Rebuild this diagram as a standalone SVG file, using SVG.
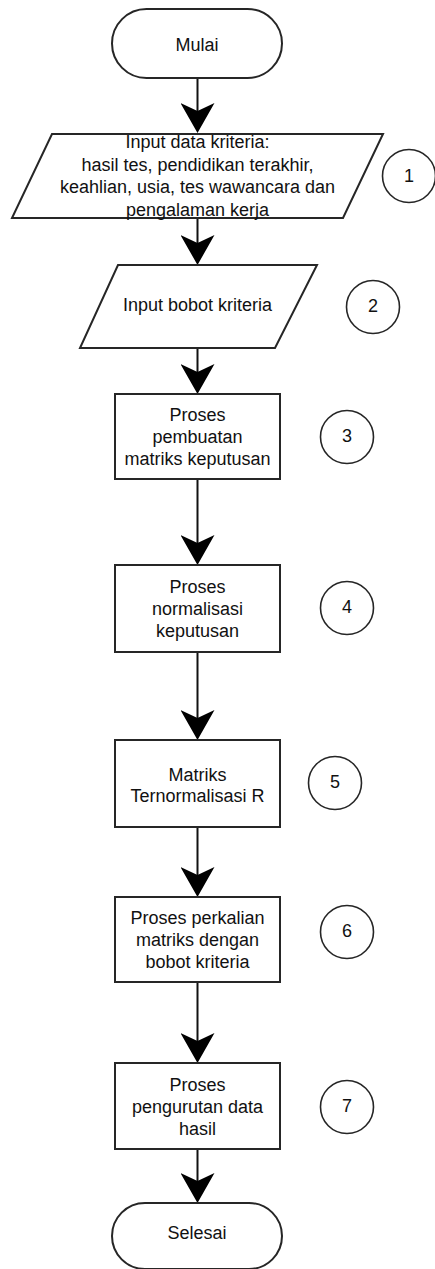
<svg xmlns="http://www.w3.org/2000/svg" width="435" height="1269" viewBox="0 0 435 1269">
  <defs>
    <marker id="arrow" markerUnits="userSpaceOnUse" markerWidth="30" markerHeight="34" viewBox="0 0 30 34" refX="20" refY="17" orient="auto">
      <path d="M0,0 L30,17 L0,34 L8,17 Z" fill="#000"/>
    </marker>
    <style>
      .shape { fill: #fff; stroke: #262626; stroke-width: 2; }
      .num { fill: #fff; stroke: #262626; stroke-width: 1.6; }
      .edge { fill: none; stroke: #111; stroke-width: 2; marker-end: url(#arrow); }
      text { font-family: "Liberation Sans", Arial, sans-serif; font-size: 18px; fill: #111; text-anchor: middle; dominant-baseline: central; }
    </style>
  </defs>
  <rect width="435" height="1269" fill="#fff"/>

  <!-- connectors -->
  <g id="connectors">
    <line class="edge" x1="197.5" y1="78" x2="197.5" y2="123"/>
    <line class="edge" x1="197.5" y1="218" x2="197.5" y2="255"/>
    <line class="edge" x1="197.5" y1="348" x2="197.5" y2="384"/>
    <line class="edge" x1="197.5" y1="479" x2="197.5" y2="555"/>
    <line class="edge" x1="197.5" y1="652" x2="197.5" y2="730"/>
    <line class="edge" x1="197.5" y1="827" x2="197.5" y2="887"/>
    <line class="edge" x1="197.5" y1="982" x2="197.5" y2="1053"/>
    <line class="edge" x1="197.5" y1="1149" x2="197.5" y2="1193"/>
  </g>

  <!-- start -->
  <g id="start">
    <rect class="shape" x="112" y="9" width="170" height="69" rx="34.5"/>
    <text x="197" y="45">Mulai</text>
  </g>

  <!-- input criteria data -->
  <g id="input-data">
    <polygon class="shape" points="52,134 383,134 343,218 12,218"/>
    <text x="197.5" y="142">Input data kriteria:</text>
    <text x="197.5" y="164.5">hasil tes, pendidikan terakhir,</text>
    <text x="197.5" y="187">keahlian, usia, tes wawancara dan</text>
    <text x="197.5" y="209.5">pengalaman kerja</text>
  </g>
  <g id="step-1">
    <circle class="num" cx="409" cy="176" r="26.5"/>
    <text x="409" y="176">1</text>
  </g>

  <!-- input weights -->
  <g id="input-bobot">
    <polygon class="shape" points="118,265 317,265 275,348 80,348"/>
    <text x="197.5" y="305">Input bobot kriteria</text>
  </g>
  <g id="step-2">
    <circle class="num" cx="373" cy="307" r="26.5"/>
    <text x="373" y="306">2</text>
  </g>

  <!-- decision matrix -->
  <g id="proses-matriks">
    <rect class="shape" x="115" y="394" width="165" height="85"/>
    <text x="197.5" y="415">Proses</text>
    <text x="197.5" y="437">pembuatan</text>
    <text x="197.5" y="458.5">matriks keputusan</text>
  </g>
  <g id="step-3">
    <circle class="num" cx="347" cy="437" r="26.5"/>
    <text x="347" y="436">3</text>
  </g>

  <!-- normalisation -->
  <g id="proses-normalisasi">
    <rect class="shape" x="115" y="565" width="165" height="87"/>
    <text x="197.5" y="587">Proses</text>
    <text x="197.5" y="608.5">normalisasi</text>
    <text x="197.5" y="630.5">keputusan</text>
  </g>
  <g id="step-4">
    <circle class="num" cx="347" cy="608" r="26.5"/>
    <text x="347" y="607">4</text>
  </g>

  <!-- normalised matrix -->
  <g id="matriks-r">
    <rect class="shape" x="115" y="740" width="165" height="87"/>
    <text x="197.5" y="774.5">Matriks</text>
    <text x="197.5" y="796">Ternormalisasi R</text>
  </g>
  <g id="step-5">
    <circle class="num" cx="335" cy="783" r="26.5"/>
    <text x="335" y="782">5</text>
  </g>

  <!-- weighting -->
  <g id="proses-perkalian">
    <rect class="shape" x="115" y="897" width="165" height="85"/>
    <text x="197.5" y="917.5">Proses perkalian</text>
    <text x="197.5" y="939.5">matriks dengan</text>
    <text x="197.5" y="961.5">bobot kriteria</text>
  </g>
  <g id="step-6">
    <circle class="num" cx="347" cy="932" r="26.5"/>
    <text x="347" y="931">6</text>
  </g>

  <!-- ranking -->
  <g id="proses-pengurutan">
    <rect class="shape" x="115" y="1063" width="165" height="86"/>
    <text x="197.5" y="1085">Proses</text>
    <text x="197.5" y="1107">pengurutan data</text>
    <text x="197.5" y="1128.5">hasil</text>
  </g>
  <g id="step-7">
    <circle class="num" cx="347" cy="1107" r="26.5"/>
    <text x="347" y="1106">7</text>
  </g>

  <!-- end -->
  <g id="end">
    <rect class="shape" x="112" y="1203" width="170" height="66" rx="33"/>
    <text x="197" y="1233">Selesai</text>
  </g>
</svg>
